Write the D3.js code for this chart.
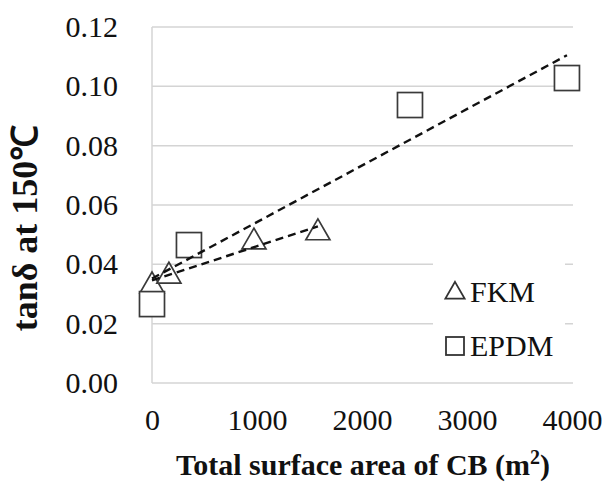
<!DOCTYPE html>
<html>
<head>
<meta charset="utf-8">
<script src="https://cdn.jsdelivr.net/npm/d3@7"></script>
<style>
  body { margin: 0; background: #fff; }
  text { font-family: "Liberation Serif", "Times New Roman", serif; fill: #111; }
</style>
</head>
<body>
<div id="chart"></div>
<script>
// values
var fkmArea = [0, 161, 971, 1580];
var fkmTan = [0.0334, 0.0367, 0.0482, 0.0513];
var epdmArea = [0, 352, 2457, 3952];
var epdmTan = [0.0266, 0.0465, 0.0937, 0.1028];
var yTicks = [0, 0.02, 0.04, 0.06, 0.08, 0.10, 0.12];
var xTicks = [0, 1000, 2000, 3000, 4000];
var legendNames = ["FKM", "EPDM"];

var w = 606, h = 484;
var padLeft = 152, padRight = 572, padTop = 27, padBottom = 383;
var serif = "'Liberation Serif', 'Times New Roman', serif";

var svg = d3.select("#chart").append("svg")
  .attr("width", w)
  .attr("height", h);

var xScale = d3.scaleLinear().domain([0, 4000]).range([padLeft, padRight]);
var yScale = d3.scaleLinear().domain([0, 0.12]).range([padBottom, padTop]);

// horizontal gridlines
svg.selectAll("line.grid")
  .data(yTicks)
  .enter()
  .append("line")
  .attr("class", "grid")
  .attr("x1", padLeft)
  .attr("x2", padRight + 1)
  .attr("y1", function(d) { return yScale(d); })
  .attr("y2", function(d) { return yScale(d); })
  .attr("stroke", "#d4d4d4")
  .attr("stroke-width", 1.5);

// left axis line
svg.append("line")
  .attr("x1", padLeft).attr("x2", padLeft)
  .attr("y1", yScale(0.12)).attr("y2", yScale(0))
  .attr("stroke", "#d4d4d4")
  .attr("stroke-width", 1.5);

// y axis labels
var yAxis = d3.axisLeft(yScale)
  .tickValues(yTicks)
  .tickFormat(d3.format(".2f"))
  .tickSize(0)
  .tickPadding(34);

var gy = svg.append("g")
  .attr("transform", "translate(" + padLeft + ",0)")
  .call(yAxis);
gy.select(".domain").remove();
gy.attr("font-family", null);
gy.selectAll("text")
  .style("font-family", serif)
  .style("font-size", "30px")
  .attr("fill", "#111");

var xAxis = d3.axisBottom(xScale)
  .tickValues(xTicks)
  .tickFormat(d3.format("d"))
  .tickSize(0)
  .tickPadding(26);

var gx = svg.append("g")
  .attr("transform", "translate(0," + padBottom + ")")
  .call(xAxis);
gx.select(".domain").remove();
gx.attr("font-family", null);
gx.selectAll("text")
  .style("font-family", serif)
  .style("font-size", "30px")
  .attr("fill", "#111");

// legend box covers the gridlines
svg.append("rect")
  .attr("x", 433).attr("y", 252)
  .attr("width", 132).attr("height", 120)
  .attr("fill", "#fff");

// markers
var fkm = fkmArea.map(function(a, i) { return { x: a, y: fkmTan[i] }; });
var epdm = epdmArea.map(function(a, i) { return { x: a, y: epdmTan[i] }; });

var tri = d3.symbol().type(d3.symbolTriangle).size(250);

svg.selectAll("path.fkm")
  .data(fkm)
  .enter()
  .append("path")
  .attr("class", "fkm")
  .attr("d", tri)
  .attr("transform", function(d) { return "translate(" + xScale(d.x) + "," + (yScale(d.y) + 2) + ")"; })
  .attr("fill", "#fff")
  .attr("stroke", "#3a3a3a")
  .attr("stroke-width", 1.7);

var sq = 25;
svg.selectAll("rect.epdm")
  .data(epdm)
  .enter()
  .append("rect")
  .attr("class", "epdm")
  .attr("x", function(d) { return xScale(d.x) - sq / 2; })
  .attr("y", function(d) { return yScale(d.y) - sq / 2; })
  .attr("width", sq).attr("height", sq)
  .attr("fill", "#fff")
  .attr("stroke", "#3a3a3a")
  .attr("stroke-width", 1.7);

// linear trendlines
function fit(data) {
  var mx = d3.mean(data, function(d) { return d.x; });
  var my = d3.mean(data, function(d) { return d.y; });
  var sxy = d3.sum(data, function(d) { return (d.x - mx) * (d.y - my); });
  var sxx = d3.sum(data, function(d) { return (d.x - mx) * (d.x - mx); });
  var b = sxy / sxx;
  var a = my - b * mx;
  var x0 = d3.min(data, function(d) { return d.x; });
  var x1 = d3.max(data, function(d) { return d.x; });
  return [{ x: x0, y: a + b * x0 }, { x: x1, y: a + b * x1 }];
}

var line = d3.line()
  .x(function(d) { return xScale(d.x); })
  .y(function(d) { return yScale(d.y); });

[fit(fkm), fit(epdm)].forEach(function(t) {
  svg.append("path")
    .attr("d", line(t))
    .attr("fill", "none")
    .attr("stroke", "#111")
    .attr("stroke-width", 2.4)
    .attr("stroke-dasharray", "8,5");
});

// legend entries
svg.append("path")
  .attr("d", d3.symbol().type(d3.symbolTriangle).size(160))
  .attr("transform", "translate(455,293)")
  .attr("fill", "#fff")
  .attr("stroke", "#333")
  .attr("stroke-width", 1.8);
svg.append("rect")
  .attr("x", 446).attr("y", 337)
  .attr("width", 18).attr("height", 18)
  .attr("fill", "#fff")
  .attr("stroke", "#333")
  .attr("stroke-width", 1.8);

svg.selectAll("text.legend")
  .data(legendNames)
  .enter()
  .append("text")
  .attr("class", "legend")
  .attr("x", 470)
  .attr("y", function(d, i) { return 302 + i * 54; })
  .style("font-size", "30px")
  .text(function(d) { return d; });

// axis titles
svg.append("text")
  .attr("x", 363)
  .attr("y", 475)
  .attr("text-anchor", "middle")
  .style("font-size", "30px")
  .style("font-weight", "bold")
  .html("Total surface area of CB (m<tspan dy='-11' font-size='20px'>2</tspan><tspan dy='11'>)</tspan>");

svg.append("text")
  .attr("transform", "translate(37,228) rotate(-90)")
  .attr("text-anchor", "middle")
  .style("font-size", "36px")
  .style("font-weight", "bold")
  .text("tanδ at 150℃");
</script>
</body>
</html>
